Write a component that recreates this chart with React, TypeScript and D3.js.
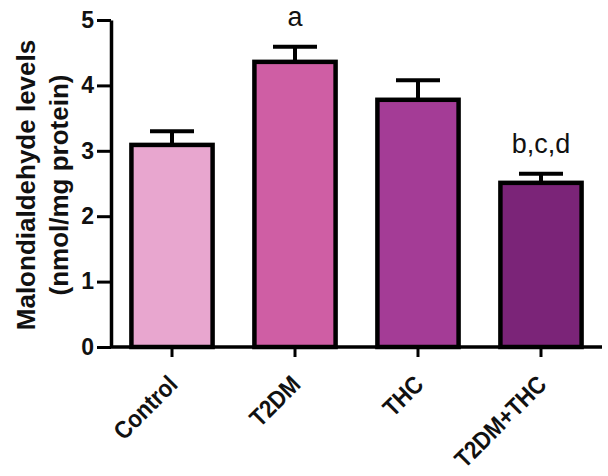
import { useEffect, useRef } from "react";
import * as d3 from "d3";

const groups = ["Control", "T2DM", "THC", "T2DM+THC"];
const means = [3.09, 4.36, 3.78, 2.51];
const sems = [0.21, 0.23, 0.3, 0.14];
const letters = ["", "a", "", "b,c,d"];
const fills = ["#e8a6cf", "#cf5ea4", "#a43c96", "#7b2478"];
const yTicks = [0, 1, 2, 3, 4, 5];

export default function App() {
  const svgRef = useRef<SVGSVGElement>(null);

  useEffect(() => {
    if (!svgRef.current) return;
    const width = 608;
    const height = 476;
    const svg = d3.select(svgRef.current);
    svg.selectAll("*").remove();

    const x = d3.scaleBand<string>().domain(groups).range([111, 602]).paddingInner(0.34).paddingOuter(0.166);
    const y = d3.scaleLinear().domain([0, 5]).range([347, 20]);

    const font = "'Liberation Sans', Arial, sans-serif";

    // Bars
    svg
      .selectAll(".bar")
      .data(groups)
      .enter()
      .append("rect")
      .attr("x", (d) => x(d)!)
      .attr("y", (d, i) => y(means[i]))
      .attr("width", x.bandwidth())
      .attr("height", (d, i) => y(0) - y(means[i]))
      .attr("fill", (d, i) => fills[i])
      .attr("stroke", "#000")
      .attr("stroke-width", 4.5);

    // Error bars (upper only) + significance letters
    groups.forEach((g, i) => {
      const cx = x(g)! + x.bandwidth() / 2;
      const top = y(means[i] + sems[i]);
      svg
        .append("line")
        .attr("x1", cx)
        .attr("x2", cx)
        .attr("y1", y(means[i]))
        .attr("y2", top)
        .attr("stroke", "#000")
        .attr("stroke-width", 4);
      svg
        .append("line")
        .attr("x1", cx - 22)
        .attr("x2", cx + 22)
        .attr("y1", top)
        .attr("y2", top)
        .attr("stroke", "#000")
        .attr("stroke-width", 4);
      if (letters[i]) {
        svg
          .append("text")
          .attr("x", cx)
          .attr("y", top - 21)
          .attr("text-anchor", "middle")
          .attr("font-family", font)
          .attr("font-size", 27)
          .attr("fill", "#111")
          .text(letters[i]);
      }
    });

    // Y axis
    const yAxis = svg
      .append("g")
      .attr("transform", "translate(111,0)")
      .call(d3.axisLeft(y).tickValues(yTicks).tickFormat(d3.format("d")).tickSize(14).tickSizeOuter(0).tickPadding(3));
    yAxis.select(".domain").attr("stroke", "#000").attr("stroke-width", 3.5);
    yAxis.selectAll(".tick line").attr("stroke", "#000").attr("stroke-width", 3);
    yAxis
      .selectAll(".tick text")
      .attr("font-family", font)
      .attr("font-weight", "bold")
      .attr("font-size", 23)
      .attr("fill", "#111");

    // X axis
    const xAxis = svg
      .append("g")
      .attr("transform", `translate(0,${y(0)})`)
      .call(d3.axisBottom(x).tickSize(10).tickSizeOuter(0).tickFormat(() => ""));
    xAxis.select(".domain").attr("stroke", "#000").attr("stroke-width", 3.5).attr("d", "M111,0H602");
    xAxis.selectAll(".tick line").attr("stroke", "#000").attr("stroke-width", 3);

    svg
      .selectAll(".xlabel")
      .data(groups)
      .enter()
      .append("text")
      .attr("transform", (d) => `translate(${x(d)! + x.bandwidth() / 2 + 7},${y(0) + 39}) rotate(-45) scale(1,1.12)`)
      .attr("text-anchor", "end")
      .attr("font-family", font)
      .attr("font-weight", "bold")
      .attr("font-size", 22)
      .attr("fill", "#111")
      .text((d) => d);

    // Y title
    const title = svg
      .append("text")
      .attr("transform", "translate(35,185) rotate(-90)")
      .attr("text-anchor", "middle")
      .attr("font-family", font)
      .attr("font-weight", "bold")
      .attr("font-size", 26)
      .attr("fill", "#111");
    title.append("tspan").attr("x", 0).attr("dy", 0).text("Malondialdehyde levels");
    title.append("tspan").attr("x", 0).attr("dy", 33).text("(nmol/mg protein)");

    svg.attr("width", width).attr("height", height);
  }, []);

  return (
    <svg
      ref={svgRef}
      width={608}
      height={476}
      style={{ position: "absolute", left: 0, top: 0, background: "#fff" }}
    />
  );
}
